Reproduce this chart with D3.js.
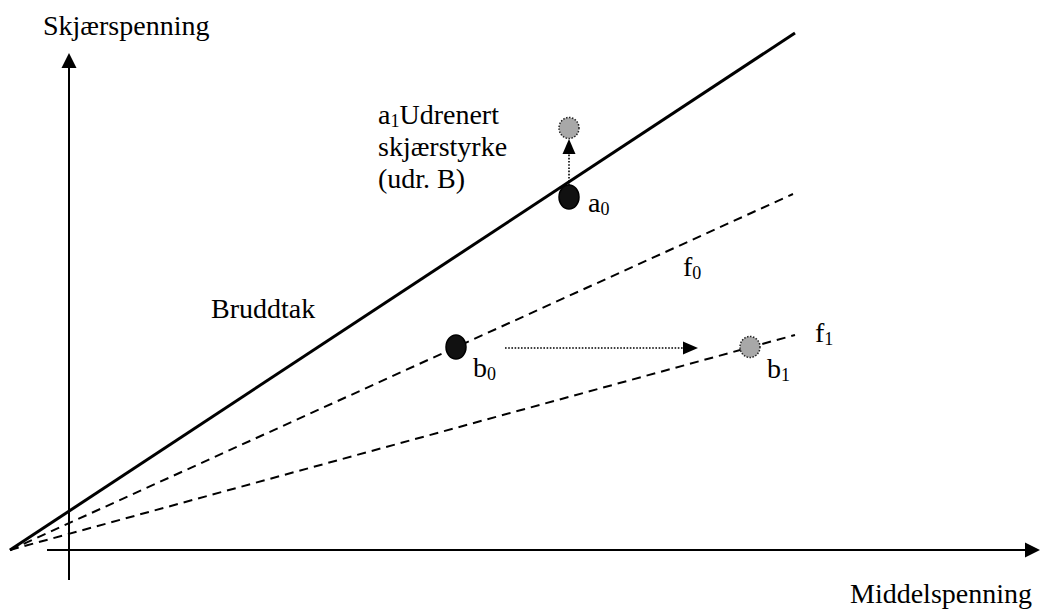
<!DOCTYPE html>
<html><head><meta charset="utf-8">
<script src="https://cdn.jsdelivr.net/npm/d3@7"></script>
<style>
html,body{margin:0;padding:0;background:#fff;}
text{font-family:"Liberation Serif","Times New Roman",serif;fill:#000;}
</style></head>
<body>
<svg id="c" width="1045" height="615"></svg>
<script>
// Data (arbitrary stress units): p = middelspenning, q = skjærspenning
const lineNames = ["Bruddtak", "f0", "f1"];
const lineStart = [[-5.9, 0], [-5.9, 0], [-5.9, 0]];
const lineEnd   = [[72.6, 51.7], [72.4, 35.6], [72.6, 21.5]];
const pointNames = ["a0", "a1", "b0", "b1"];
const pointP = [50.0, 50.0, 38.7, 68.1];
const pointQ = [35.3, 42.2, 20.3, 20.3];
const pointKind = ["black", "grey", "black", "grey"];
const xAxisRange = [-2.2, 97.1];
const yAxisRange = [-3.0, 49.7];
const arrowA = [[50.0, 36.5], [50.0, 41.1]];
const arrowB = [[43.6, 20.2], [62.9, 20.2]];

const svg = d3.select("#c");
const x = d3.scaleLinear().domain([0, 100]).range([69, 1069]);
const y = d3.scaleLinear().domain([0, 50]).range([550, 50]);

function arrowHead(x1, y1, x2, y2, len, half) {
  const a = Math.atan2(y2 - y1, x2 - x1);
  const bx = x2 - len * Math.cos(a), by = y2 - len * Math.sin(a);
  const nx = -Math.sin(a) * half, ny = Math.cos(a) * half;
  svg.append("path")
    .attr("d", `M${x2},${y2}L${bx + nx},${by + ny}L${bx - nx},${by - ny}Z`)
    .attr("fill", "#000");
}

// axes
svg.append("line").attr("x1", x(xAxisRange[0])).attr("y1", y(0))
  .attr("x2", x(xAxisRange[1]) - 14).attr("y2", y(0))
  .attr("stroke", "#000").attr("stroke-width", 2);
arrowHead(x(xAxisRange[0]), y(0), x(xAxisRange[1]), y(0), 15, 7.5);
svg.append("line").attr("x1", x(0)).attr("y1", y(yAxisRange[0]))
  .attr("x2", x(0)).attr("y2", y(yAxisRange[1]) + 14)
  .attr("stroke", "#000").attr("stroke-width", 2);
arrowHead(x(0), y(yAxisRange[0]), x(0), y(yAxisRange[1]), 15, 7.5);

// lines
lineNames.forEach((n, i) => {
  svg.append("line")
    .attr("x1", x(lineStart[i][0])).attr("y1", y(lineStart[i][1]))
    .attr("x2", x(lineEnd[i][0])).attr("y2", y(lineEnd[i][1]))
    .attr("stroke", "#000")
    .attr("stroke-width", i === 0 ? 3 : 2)
    .attr("stroke-dasharray", i === 0 ? null : "9,6");
});

// dotted arrows
[arrowA, arrowB].forEach(a => {
  const x1 = x(a[0][0]), y1 = y(a[0][1]), x2 = x(a[1][0]), y2 = y(a[1][1]);
  const ang = Math.atan2(y2 - y1, x2 - x1);
  svg.append("line").attr("x1", x1).attr("y1", y1)
    .attr("x2", x2 - 12 * Math.cos(ang)).attr("y2", y2 - 12 * Math.sin(ang))
    .attr("stroke", "#000").attr("stroke-width", 1.6)
    .attr("stroke-dasharray", "1.6,1.6");
  arrowHead(x1, y1, x2, y2, 15, 6.5);
});

// points
pointNames.forEach((n, i) => {
  const black = pointKind[i] === "black";
  svg.append("ellipse")
    .attr("cx", x(pointP[i])).attr("cy", y(pointQ[i]))
    .attr("rx", 10).attr("ry", black ? 12 : 10.5)
    .attr("fill", black ? "#111" : "#a8a8a8")
    .attr("stroke", black ? "#000" : "#222")
    .attr("stroke-width", 1.5)
    .attr("stroke-dasharray", black ? null : "1.5,1.5");
});

// text helpers
const FS = 28, SUB = 18;
function label(px, py, main, sub, after) {
  const t = svg.append("text").attr("x", px).attr("y", py).attr("font-size", FS);
  t.append("tspan").text(main);
  if (sub !== undefined) {
    t.append("tspan").attr("font-size", SUB).attr("dy", 3).text(sub);
    if (after) t.append("tspan").attr("dy", -3).text(after);
  }
}
label(43, 35, "Skjærspenning");
label(850, 603, "Middelspenning");
label(211, 318, "Bruddtak");
label(378, 124, "a", "1", "Udrenert");
label(378, 156, "skjærstyrke");
label(378, 188, "(udr. B)");
label(588, 212, "a", "0");
label(683, 276, "f", "0");
label(473, 377, "b", "0");
label(767, 378, "b", "1");
label(815, 342, "f", "1");
</script>
</body></html>
